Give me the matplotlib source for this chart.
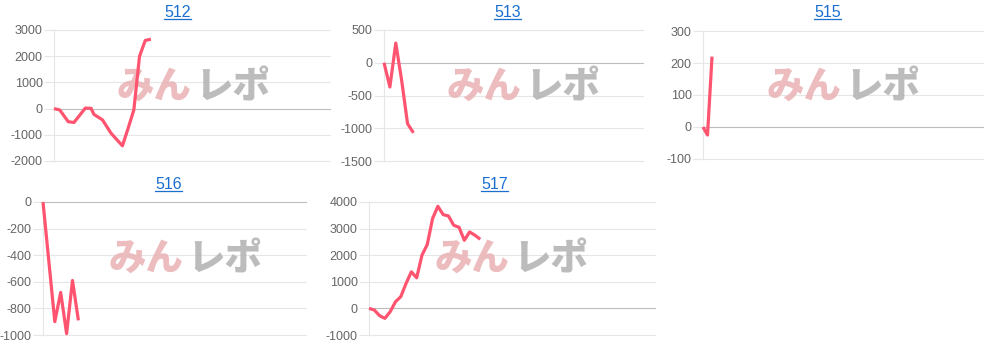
import numpy as np
import matplotlib
matplotlib.use('Agg')
import matplotlib.pyplot as plt
from matplotlib.lines import Line2D

plt.rcParams['font.family'] = ['Liberation Sans', 'DejaVu Sans']

W, H = 990, 344

# data (x = play index, y = balance)
names = ['512', '513', '515', '516', '517']

x512 = [0, 1, 2.5, 3.5, 5.5, 6.5, 7, 8.5, 10, 12, 13, 14, 15, 16, 17]
y512 = [0, -50, -500, -530, 20, 10, -220, -430, -940, -1420, -750, -50, 2000, 2600, 2650]

x513 = [0, 1, 2, 3, 4, 5]
y513 = [0, -370, 300, -270, -930, -1070]

x515 = [0, 1, 2]
y515 = [0, -25, 220]

x516 = [0, 2, 3, 4, 5, 6]
y516 = [0, -900, -680, -990, -590, -890]

x517 = list(range(22))
y517 = [0, -60, -275, -375, -125, 250, 440, 940, 1375, 1150, 2000, 2400,
        3375, 3840, 3525, 3475, 3125, 3050, 2560, 2875, 2750, 2600]

xs = [x512, x513, x515, x516, x517]
ys = [y512, y513, y515, y516, y517]
xmax = [48.4, 44, 62, 44.6, 54]
yticks = [np.arange(-2000, 3001, 1000), np.arange(-1500, 501, 500),
          np.arange(-100, 301, 100), np.arange(-1000, 1, 200),
          np.arange(-1000, 4001, 1000)]

# pixel boxes: left, right, top, bottom
boxes = [(54, 330, 30, 161), (384, 643, 30, 161), (703, 983, 31, 159),
         (43, 306, 202, 335), (369, 655, 202, 335)]
title_pos = [(177.5, 17.3), (507.5, 17.3), (827.5, 17.3), (168.7, 189.3), (494.3, 189.3)]
mark_pos = [(193, 87), (523, 87), (843, 87), (185, 259), (511, 259)]

line_col = '#ff5470'
grid_col = '#e6e6e6'
zero_col = '#bdbdbd'
tick_col = '#666666'
link_col = '#1a6fd1'

fig = plt.figure(figsize=(W / 100, H / 100), dpi=100)
renderer = fig.canvas.get_renderer()

for i in range(5):
    l, r, t, b = boxes[i]
    ax = fig.add_axes([l / W, 1 - b / H, (r - l) / W, (b - t) / H])
    ax.set_facecolor('none')
    for s in ['top', 'right', 'bottom']:
        ax.spines[s].set_visible(False)
    ax.spines['left'].set_color(grid_col)
    ax.spines['left'].set_linewidth(0.8)

    ax.set_xlim(0, xmax[i])
    ax.set_xticks([])
    ax.set_yticks(yticks[i])
    ax.set_ylim(yticks[i][0], yticks[i][-1])
    ax.set_yticklabels([str(v) for v in yticks[i]])
    ax.tick_params(axis='y', length=7.2, width=0.8, color=grid_col,
                   labelcolor=tick_col, labelsize=9, pad=1)
    for v in yticks[i]:
        c = zero_col if v == 0 else grid_col
        ax.axhline(v, color=c, lw=0.8, zorder=1, clip_on=False)
    for tk in ax.yaxis.get_major_ticks():
        if tk.get_loc() == 0:
            tk.tick1line.set_color(zero_col)

    # watermark
    mx, my = mark_pos[i]
    ax.text((mx - 39) / W, 1 - my / H, 'みん', transform=fig.transFigure,
            ha='center', va='center', fontsize=27, fontweight='heavy',
            family=['Noto Sans CJK JP', 'DejaVu Sans'], color='#eab5b8',
            alpha=0.9, zorder=2)
    ax.text((mx + 40) / W, 1 - my / H, 'レポ', transform=fig.transFigure,
            ha='center', va='center', fontsize=27, fontweight='heavy',
            family=['Noto Sans CJK JP', 'DejaVu Sans'], color='#b5b5b5',
            alpha=0.9, zorder=2)

    ax.plot(xs[i], ys[i], color=line_col, lw=2.3, solid_joinstyle='round',
            solid_capstyle='butt', zorder=4, clip_on=False)

    # title with underline
    tx, ty = title_pos[i]
    txt = fig.text(tx / W, 1 - ty / H, names[i], ha='center', va='baseline',
                   fontsize=11.5, color=link_col)
    bb = txt.get_window_extent(renderer=renderer)
    uy = 1 - (ty + 1.8) / H
    fig.add_artist(Line2D([bb.x0 / W, bb.x1 / W], [uy, uy], color=link_col,
                          lw=0.9, transform=fig.transFigure))

fig.savefig('out.png', dpi=100, facecolor='white')
